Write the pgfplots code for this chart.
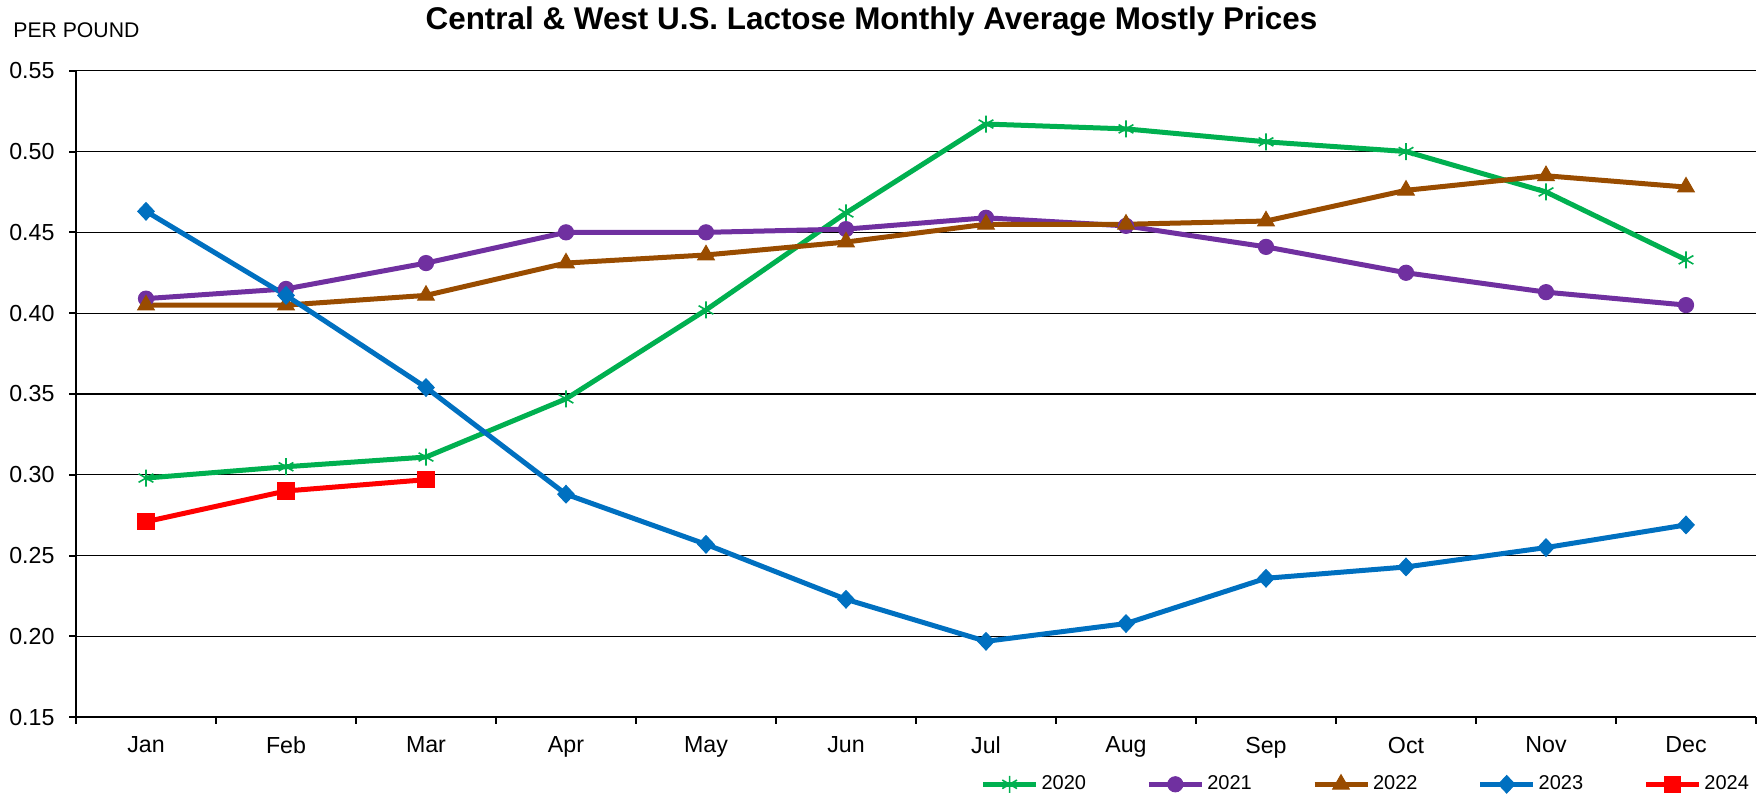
\documentclass[border=0pt]{standalone}
\usepackage{fontspec}
\setmainfont{Liberation Sans}
\usepackage{pgfplots}
\pgfplotsset{compat=1.18}
\definecolor{c20}{RGB}{0,176,80}
\definecolor{c21}{RGB}{112,48,160}
\definecolor{c22}{RGB}{153,76,0}
\definecolor{c23}{RGB}{0,112,192}
\definecolor{c24}{RGB}{255,0,0}
\begin{document}
\begin{tikzpicture}
\path[use as bounding box] (-38bp,-38.85bp) rectangle (843bp,358.65bp);
\begin{axis}[
  at={(0,0)}, anchor=south west,
  scale only axis, width=840bp, height=323.3bp,
  xmin=-0.5, xmax=11.5, ymin=0.15, ymax=0.55,
  axis lines*=left,
  axis line style={-, line width=1bp, black},
  xtick={-0.5,0.5,...,11.5},
  x tick label as interval,
  xticklabels={Jan,Feb,Mar,Apr,May,Jun,Jul,Aug,Sep,Oct,Nov,Dec},
  xticklabel style={yshift=-3bp},
  ytick={0.15,0.2,0.25,0.3,0.35,0.4,0.45,0.5,0.55},
  yticklabel style={xshift=-4bp, /pgf/number format/.cd, fixed, fixed zerofill, precision=2},
  /pgf/number format/assume math mode=true,
  tick align=outside,
  major tick length=3.25bp,
  tick style={black, line width=1bp},
  ymajorgrids,
  grid style={black, line width=0.65bp},
  tick label style={font=\fontsize{11.6bp}{13bp}\selectfont},
  legend columns=5,
  legend style={at={(0.768,-0.1036)}, anchor=center, draw=none, fill=none,
    font=\fontsize{10bp}{12bp}\selectfont, inner sep=0pt,
    nodes={inner sep=1.5bp},
    /tikz/every even column/.append style={column sep=28.6bp}},
  legend image code/.code={\draw[mark repeat=2,mark phase=2] plot coordinates {(0bp,0bp) (13.25bp,0bp) (26.5bp,0bp)};},
]
\addplot[c20, line width=2.5bp, mark=asterisk, mark size=4.25bp, mark options={solid, line width=0.8bp}]
coordinates {(0,0.298)(1,0.305)(2,0.311)(3,0.347)(4,0.402)(5,0.462)(6,0.517)(7,0.514)(8,0.506)(9,0.500)(10,0.475)(11,0.433)};
\addlegendentry{2020}
\addplot[c21, line width=2.5bp, mark=*, mark size=3.8bp, mark options={solid, line width=0.5bp}]
coordinates {(0,0.409)(1,0.415)(2,0.431)(3,0.450)(4,0.450)(5,0.452)(6,0.459)(7,0.454)(8,0.441)(9,0.425)(10,0.413)(11,0.405)};
\addlegendentry{2021}
\addplot[c22, line width=2.5bp, mark=triangle*, mark size=4.8bp, mark options={solid, line width=0.5bp}]
coordinates {(0,0.405)(1,0.405)(2,0.411)(3,0.431)(4,0.436)(5,0.444)(6,0.455)(7,0.455)(8,0.457)(9,0.476)(10,0.485)(11,0.478)};
\addlegendentry{2022}
\addplot[c23, line width=2.5bp, mark=diamond*, mark size=4.4bp, mark options={solid, line width=0.5bp, xscale=1.25}]
coordinates {(0,0.463)(1,0.411)(2,0.354)(3,0.288)(4,0.257)(5,0.223)(6,0.197)(7,0.208)(8,0.236)(9,0.243)(10,0.255)(11,0.269)};
\addlegendentry{2023}
\addplot[c24, line width=2.5bp, mark=square*, mark size=4.1bp, mark options={solid, line width=0.5bp}]
coordinates {(0,0.271)(1,0.290)(2,0.297)};
\addlegendentry{2024}
\end{axis}
\node[anchor=base, inner sep=0pt, font=\fontsize{15.7bp}{18bp}\selectfont\bfseries] at (397.75bp,343.65bp) {Central \& West U.S. Lactose Monthly Average Mostly Prices};
\node[anchor=west, inner sep=0pt, font=\fontsize{10.6bp}{12bp}\selectfont] at (-31.5bp,343.65bp) {PER POUND};
\end{tikzpicture}
\end{document}
